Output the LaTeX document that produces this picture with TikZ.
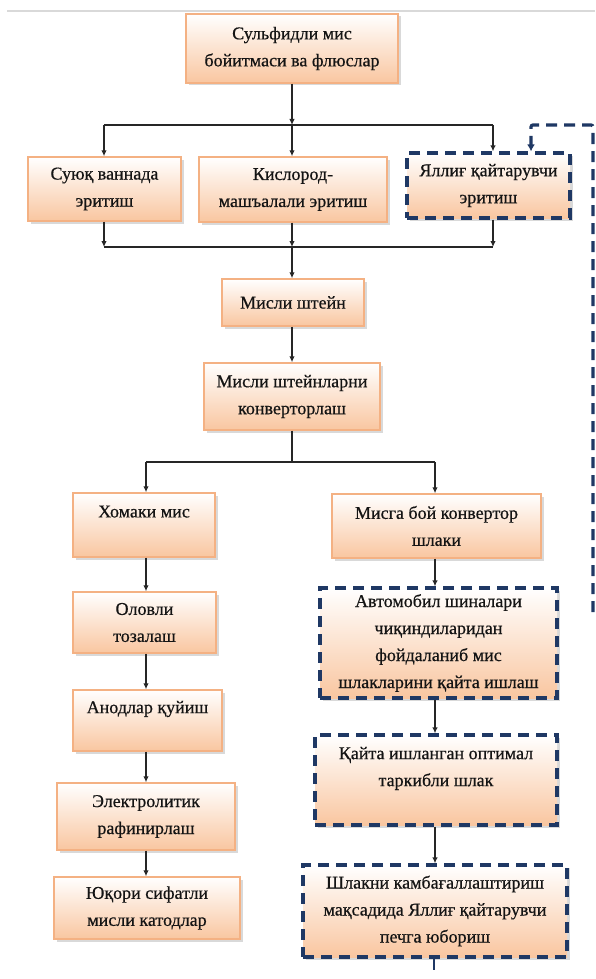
\documentclass[tikz,border=0pt]{standalone}
\usepackage{fontspec}
\setmainfont[FakeBold=0.6]{Liberation Serif}
\usetikzlibrary{arrows.meta,shadows}
\definecolor{peach}{HTML}{F9C6A0}
\definecolor{boxborder}{HTML}{F4B183}
\definecolor{navy}{HTML}{1F3864}
\definecolor{txt}{HTML}{141414}
\newcommand{\fsz}{\fontsize{18}{27}\selectfont}
\tikzset{
  box/.style={draw=boxborder, line width=1.4pt, top color=white, bottom color=peach,
    drop shadow={shadow xshift=2.5pt,shadow yshift=-2.5pt,opacity=0.3,fill=gray},
    align=center, inner sep=2pt, font=\fsz, text=txt},
  dbox/.style={box, draw=navy, line width=3.2pt, dash pattern=on 11pt off 7pt},
  sz/.style 2 args={minimum width=#1pt, minimum height=#2pt},
  ln/.style={line width=1.2pt, draw=black!85},
  arr/.style={ln, -{Latex[length=6pt,width=5.5pt]}},
  fb/.style={line width=3.2pt, draw=navy, dash pattern=on 11pt off 7pt, rounded corners=2pt},
}
\begin{document}
\begin{tikzpicture}[x=1pt,y=-1pt]
\useasboundingbox (0,0) rectangle (595,979);
\coordinate (g1) at (7,11);
\coordinate (g2) at (595,11);
\draw[line width=2pt, draw=black!15] (g1) -- (g2);

\node[box, sz={212}{69}] (top) at (292,48.5) {Сульфидли мис\\бойитмаси ва флюслар};
\node[box, sz={153}{64}] (suyuk) at (104.5,189) {Суюқ ваннада\\эритиш};
\node[box, sz={188}{65}] (kisl) at (293,189.5) {Кислород-\\машъалали эритиш};
\node[dbox, sz={163}{65}] (yallig) at (488.5,185.5) {Яллиғ қайтарувчи\\эритиш};
\node[box, sz={142}{47}] (shteyn) at (293,302.5) {Мисли штейн};
\node[box, sz={176}{67}] (konv) at (292,396.5) {Мисли штейнларни\\конверторлаш};
\node[box, sz={142}{64}] (xom) at (144,525) {Хомаки мис\\~};
\node[box, sz={143}{61}] (olov) at (144.5,622.5) {Оловли\\тозалаш};
\node[box, sz={149}{61}] (anod) at (147.5,720.5) {Анодлар қуйиш\\~};
\node[box, sz={178}{67}] (elek) at (146,816.5) {Электролитик\\рафинирлаш};
\node[box, sz={186}{62}] (yuk) at (147,908) {Юқори сифатли\\мисли катодлар};
\node[box, sz={209}{64}] (misga) at (436.5,526) {Мисга бой конвертор\\шлаки};
\node[dbox, sz={237}{110}] (avto) at (438.5,643) {Автомобил шиналари\\чиқиндиларидан\\фойдаланиб мис\\шлакларини қайта ишлаш};
\node[dbox, sz={242}{90}] (qayta) at (436,780) {Қайта ишланган оптимал\\таркибли шлак\\~};
\node[dbox, sz={264}{92}] (shlak) at (435,911) {Шлакни камбағаллаштириш\\мақсадида Яллиғ қайтарувчи\\печга юбориш};

% upper split
\coordinate (jt) at (292,125);
\coordinate (jl) at (104,125);
\coordinate (jr) at (493,125);
\draw[arr] (top.south) -- (jt);
\draw[ln] (jl) -- (jr);
\draw[arr] (jl) -- (suyuk.north -| jl);
\draw[arr] (jt) -- (kisl.north -| jt);
\draw[arr] (jr) -- (yallig.north -| jr);
% merge
\coordinate (bt) at (292,247);
\coordinate (bl) at (104,247);
\coordinate (br) at (493,247);
\draw[ln] (bl) -- (br);
\draw[arr] (suyuk.south -| bl) -- (bl);
\draw[arr] (kisl.south -| bt) -- (bt);
\draw[arr] (yallig.south -| br) -- (br);
\draw[arr] (bt) -- (shteyn.north -| bt);
\draw[arr] (shteyn.south -| bt) -- (konv.north -| bt);
% lower split
\coordinate (kt) at (292,462);
\coordinate (kl) at (146,462);
\coordinate (kr) at (435,462);
\draw[ln] (konv.south -| kt) -- (kt);
\draw[ln] (kl) -- (kr);
\draw[arr] (kl) -- (xom.north -| kl);
\draw[arr] (kr) -- (misga.north -| kr);
% left chain
\draw[arr] (xom.south -| kl) -- (olov.north -| kl);
\draw[arr] (olov.south -| kl) -- (anod.north -| kl);
\draw[arr] (anod.south -| kl) -- (elek.north -| kl);
\draw[arr] (elek.south -| kl) -- (yuk.north -| kl);
% right chain
\draw[arr] (misga.south -| kr) -- (avto.north -| kr);
\draw[arr] (avto.south -| kr) -- (qayta.north -| kr);
\draw[arr] (qayta.south -| kr) -- (shlak.north -| kr);
% feedback
\coordinate (s1) at (434,970);
\draw[line width=2.4pt, draw=navy] (shlak.south -| s1) -- (s1);
\coordinate (f1) at (593,612);
\coordinate (f2) at (593,125);
\coordinate (f3) at (531,125);
\draw[fb, -{Latex[length=7pt,width=8pt]}] (f1) -- (f2) -- (f3) -- (yallig.north -| f3);
\end{tikzpicture}
\end{document}
